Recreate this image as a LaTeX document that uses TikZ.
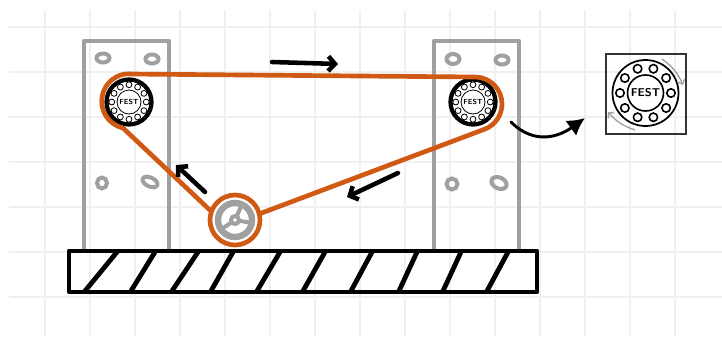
\documentclass[tikz,border=0pt]{standalone}
\usetikzlibrary{arrows.meta,positioning,calc}
\definecolor{BELT-ORANGE}{RGB}{208, 90, 20}
\definecolor{PLATE-GRAY}{RGB}{160, 160, 160}
\definecolor{GRID-GRAY}{RGB}{240, 240, 240}
\tikzset{
  gridline/.style={GRID-GRAY, line width=1pt},
  plate/.style={PLATE-GRAY, line width=3.6pt, line join=round},
  hole/.style={PLATE-GRAY, line width=3pt},
  belt/.style={BELT-ORANGE, line width=3.5pt, line join=round},
  floorline/.style={black, line width=3.6pt, line join=round, line cap=round},
  motion/.style={black, line width=3.4pt, line cap=round, -{Straight Barb[length=5pt,width=11pt,line width=3.4pt]}},
  turn/.style={PLATE-GRAY, line width=1pt, -{Straight Barb[length=3pt,width=6pt]}}
}
% name, x, y, outer radius, inner radius, ball angles, outer line, thin line, font size
\newcommand{\drawbearing}[9]{
  \fill[white] (#2,#3) circle (#4);
  \draw[black, line width=#7] (#2,#3) circle (#4);
  \draw[black, line width=#8] (#2,#3) circle (#5);
  \foreach \a in {#6}
    \draw[black, fill=white, line width=#8] ($(#2,#3)+(\a:{(#4+#5)/2})$) circle ({(#4-#5)*0.28});
  \node[inner sep=0pt, font=\fontsize{#9}{#9}\selectfont\sffamily\bfseries] (#1) at (#2,#3) {FEST};
}

\begin{document}
\begin{tikzpicture}[x=0.75pt,y=-0.75pt]
  \useasboundingbox (0,0) rectangle (722,336);

  % Background grid
  \foreach \gx in {45,90,...,675}
    \draw[gridline] (\gx,10) -- (\gx,336);
  \foreach \gy in {27,72,...,297}
    \draw[gridline] (9,\gy) -- (722,\gy);

  % Left plate
  \draw[plate] (84,250) -- (84,41) -- (169,41) -- (169,250);
  \draw[hole] (103,58) ellipse (6.5 and 4.5);
  \draw[hole] (152,59) ellipse (6.5 and 4.5);
  \draw[hole] (102,183) ellipse (5 and 5.5);
  \draw[hole, rotate around={-25:(150,182)}] (150,182) ellipse (8 and 4.5);

  % Right plate
  \draw[plate] (434,250) -- (434,41) -- (519,41) -- (519,250);
  \draw[hole] (453,59) ellipse (6.5 and 5);
  \draw[hole] (502,60) ellipse (6.5 and 4.5);
  \draw[hole] (452,184) ellipse (5.5 and 5.5);
  \draw[hole, rotate around={-25:(499,183)}] (499,183) ellipse (8 and 5.5);

  % Base with hatching
  \draw[floorline] (69,251) rectangle (537,292);
  \foreach \hb/\ht in {85/117,131/155,172/198,211/233,257/280,303/325,351/372,399/417,443/461,487/508}
    \draw[floorline] (\hb,291) -- (\ht,252);

  % Bearings
  \drawbearing{festleft}{129}{102}{22.5}{12}{0,30,...,330}{3.2pt}{0.6pt}{5.5}
  \drawbearing{festright}{473}{102}{22.5}{12}{0,30,...,330}{3.2pt}{0.6pt}{5.5}

  % Belt
  \draw[belt] (129,74) -- (475,77) arc (270:428:27) -- (259,214);
  \draw[belt] (213,213) -- (123,128) arc (103:270:27.5);

  % Tensioner
  \coordinate (hub) at (235,220);
  \fill[white] (hub) circle (25);
  \draw[PLATE-GRAY, line width=4.8pt] (hub) circle (17);
  \foreach \a in {294,10,146}
    \draw[PLATE-GRAY, line width=3pt] (hub) -- ++(\a:17);
  \draw[PLATE-GRAY, fill=white, line width=3pt] (hub) circle (4);
  \draw[belt] (hub) circle (25);

  % Belt direction
  \coordinate (topstart) at (272,62);
  \coordinate (topend) at (338,64);
  \coordinate (lowstart) at (398,173);
  \coordinate (lowend) at (347,197);
  \coordinate (backstart) at (205,192);
  \coordinate (backend) at (176,165);
  \draw[motion] (topstart) -- (topend);
  \draw[motion] (lowstart) -- (lowend);
  \draw[motion] (backstart) -- (backend);

  % Detail
  \node[draw=black!80, line width=1.5pt, minimum size=60pt, inner sep=0pt] (detail) at (645.5,93.5) {};
  \drawbearing{festdetail}{645.5}{93}{33}{18}{0,36,...,324}{1.3pt}{1.2pt}{8.5}
  \coordinate (turnastart) at (662,59);
  \coordinate (turnaend) at (683,85);
  \coordinate (turnbstart) at (635,130);
  \coordinate (turnbend) at (608,112);
  \draw[turn] (turnastart) to[bend left=15] (turnaend);
  \draw[turn] (turnbstart) to[bend left=15] (turnbend);

  % Pointer to the detail
  \coordinate (pointer) at (511,122);
  \draw[black, line width=2.2pt, line cap=round, -{Latex[length=13pt,width=14pt]}] (pointer) .. controls (535,146) and (560,136) .. (585,118);
\end{tikzpicture}
\end{document}
